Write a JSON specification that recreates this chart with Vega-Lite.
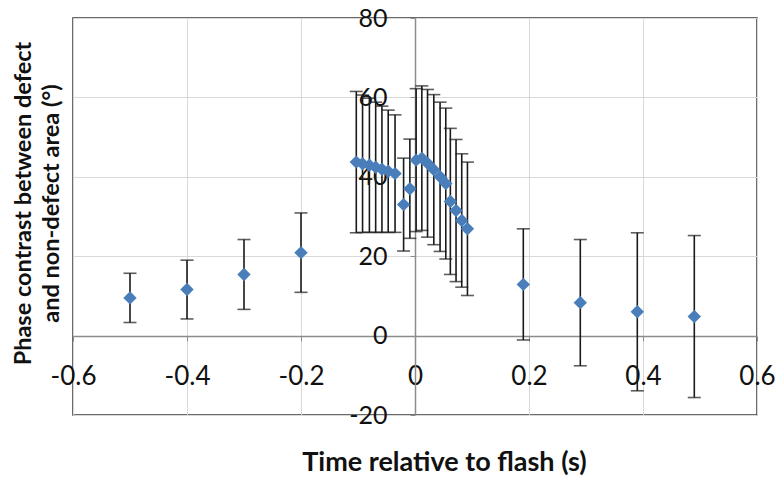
{
  "$schema": "https://vega.github.io/schema/vega-lite/v6.json",
  "width": 684,
  "height": 397,
  "autosize": "none",
  "padding": {"left": 73, "top": 18, "right": 26, "bottom": 62},
  "background": "white",
  "config": {
    "view": {"stroke": "#3a3a3a", "strokeWidth": 1.5},
    "font": "Lato"
  },
  "data": {
    "values": [
      {"t": -0.5, "phase": 9.5, "err": 6.2},
      {"t": -0.4, "phase": 11.6, "err": 7.4},
      {"t": -0.3, "phase": 15.4, "err": 8.8},
      {"t": -0.2, "phase": 20.9, "err": 10.0},
      {"t": -0.103, "phase": 43.7, "err": 17.8},
      {"t": -0.092, "phase": 43.3, "err": 17.3},
      {"t": -0.08, "phase": 42.9, "err": 16.9},
      {"t": -0.069, "phase": 42.4, "err": 16.4},
      {"t": -0.058, "phase": 41.9, "err": 15.9},
      {"t": -0.047, "phase": 41.4, "err": 15.4},
      {"t": -0.035, "phase": 40.8, "err": 14.8},
      {"t": -0.02, "phase": 33.0, "err": 11.7},
      {"t": -0.009, "phase": 37.0, "err": 12.5},
      {"t": 0.002, "phase": 44.2, "err": 18.0},
      {"t": 0.012, "phase": 44.7, "err": 18.2},
      {"t": 0.022, "phase": 43.4, "err": 18.6},
      {"t": 0.033, "phase": 41.8, "err": 18.9},
      {"t": 0.044, "phase": 40.0, "err": 18.8},
      {"t": 0.054, "phase": 38.3, "err": 19.0},
      {"t": 0.062, "phase": 33.8, "err": 18.4},
      {"t": 0.072, "phase": 31.5, "err": 17.9},
      {"t": 0.082, "phase": 29.0, "err": 16.8},
      {"t": 0.092, "phase": 26.9, "err": 16.8},
      {"t": 0.19, "phase": 12.9, "err": 14.0},
      {"t": 0.29, "phase": 8.3, "err": 15.9},
      {"t": 0.39, "phase": 6.0, "err": 19.9},
      {"t": 0.49, "phase": 4.8, "err": 20.4}
    ]
  },
  "encoding": {
    "x": {
      "field": "t",
      "type": "quantitative",
      "scale": {"domain": [-0.6, 0.6], "nice": false, "zero": false},
      "axis": {
        "orient": "bottom",
        "offset": -79,
        "values": [-0.6, -0.4, -0.2, 0, 0.2, 0.4, 0.6],
        "format": "~g",
        "labelExpr": "replace(datum.label, '\u2212', '-')",
        "grid": true,
        "gridColor": "#d9d9d9",
        "gridWidth": 1,
        "domainColor": "#8c8c8c",
        "domainWidth": 1.5,
        "tickColor": "#8c8c8c",
        "tickSize": 5,
        "labelFontSize": 26,
        "labelColor": "#111111",
        "labelPadding": 22,
        "labelFlush": false,
        "labelOverlap": false,
        "labelBound": false,
        "title": "Time relative to flash (s)",
        "titleFontSize": 27,
        "titleFontWeight": "bold",
        "titleColor": "#111111",
        "titleX": 371,
        "titleY": 134,
        "titleAlign": "center",
        "titleBaseline": "alphabetic"
      }
    },
    "y": {
      "field": "phase",
      "type": "quantitative",
      "scale": {"domain": [-20, 80], "nice": false, "zero": false},
      "axis": {
        "orient": "left",
        "offset": -342,
        "values": [-20, 0, 20, 40, 60, 80],
        "format": "d",
        "labelExpr": "replace(datum.label, '\u2212', '-')",
        "grid": true,
        "gridColor": "#d9d9d9",
        "gridWidth": 1,
        "domainColor": "#8c8c8c",
        "domainWidth": 1.5,
        "tickColor": "#8c8c8c",
        "tickSize": 5,
        "labelFontSize": 25,
        "labelColor": "#111111",
        "labelPadding": 23,
        "labelOverlap": false,
        "labelBound": false,
        "labelFlush": false,
        "title": ["Phase contrast between defect", "and non-defect area (°)"],
        "titleFontSize": 23.5,
        "titleFontWeight": "bold",
        "titleColor": "#111111",
        "titleAngle": -90,
        "titleX": -404,
        "titleY": 185,
        "titleAlign": "center",
        "titleBaseline": "top",
        "titleLineHeight": 28
      }
    }
  },
  "layer": [
    {
      "mark": {
        "type": "errorbar",
        "color": "#1a1a1a",
        "thickness": 1.6,
        "ticks": {"size": 13, "thickness": 1.6, "color": "#1a1a1a"}
      },
      "encoding": {
        "yError": {"field": "err"}
      }
    },
    {
      "mark": {
        "type": "point",
        "shape": "diamond",
        "filled": true,
        "opacity": 1,
        "size": 180,
        "color": "#4a7ebb"
      }
    }
  ]
}
